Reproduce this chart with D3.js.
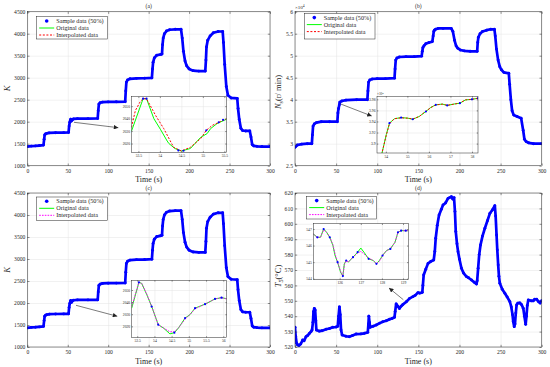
<!DOCTYPE html>
<html><head><meta charset="utf-8">
<script src="https://cdn.jsdelivr.net/npm/d3@7"></script>
<style>body{margin:0;background:#fff}svg{display:block}</style>
</head><body><svg id="c" width="550" height="367"></svg>
<script>
// ---------------- DATA ----------------
const timeTicks = [0, 50, 100, 150, 200, 250, 300];
const kTicks = [1000, 1500, 2000, 2500, 3000, 3500, 4000, 4500];
const nTicks = [25000, 30000, 35000, 40000, 45000, 50000, 55000, 60000];
const tTicks = [520, 530, 540, 550, 560, 570, 580, 590, 600, 610, 620];

const kTime = [0,5,10,15,20,20.8,21.5,22.5,24,27,35,45,51,51.7,52.5,53.3,53.65,54.5,55.5,57,62,75,87,87.7,88.5,90,93,100,110,121,121.7,122.5,124,127,135,145,154,154.8,155.5,157,160,165,166.5,167.2,168,169.5,172,176,183,190,191.5,193,195,197,200,205,212,220,220.8,221.5,223,226,230,236,241.5,242.5,244,246,248,252,259.5,260.5,262,264,266,270,275,276.5,278,280,284,290,300];
const kValue = [1435,1445,1450,1458,1468,1600,1700,1720,1735,1745,1750,1752,1755,1900,1990,2031,2056,2014,2040,2063,2070,2070,2073,2250,2400,2430,2445,2450,2452,2455,2700,2900,2950,2975,2985,2988,2995,3200,3350,3450,3510,3530,3540,3750,3900,4000,4060,4090,4100,4100,3900,3600,3380,3270,3200,3160,3150,3150,3400,3700,3850,3950,4020,4050,4050,3800,3300,2800,2600,2540,2530,2300,2050,1850,1800,1790,1790,1650,1480,1450,1440,1435,1435];

const nTime = [0,3,8,15,20.5,21.2,22,23.5,26,32,42,51.5,52.2,53,53.9,54.5,57,62,75,88,88.7,89.5,91,94,100,110,121,121.7,122.5,124,127,135,145,154,154.8,155.5,157,159,163,167,168,168.8,169.5,171,174,180,190,192,194,196,198,201,206,213,221.5,222.2,223,225,228,233,238,242.5,243.5,245,247,249,251,254,260,261,262.5,264,266,270,275,277.5,279,281,284,290,300];
const nValue = [29200,29700,29900,30000,30000,32000,34000,34500,34800,35000,35000,35000,37000,38000,38850,39450,39700,39900,40000,40000,42000,44000,44500,44700,44800,44800,44900,47000,49000,49500,49700,49800,49800,49900,51000,51800,52300,52700,53000,53200,54500,55500,55800,56000,56200,56200,56200,55500,53500,52200,51700,51300,51100,51000,51000,53000,54200,55000,55500,55800,56000,56000,54500,51500,49000,47500,46800,46200,46000,43500,40000,37500,36500,36200,35800,33000,31000,30500,30200,30000,30000];

const tsTime = [0,0.8,2,3,4.8,7,9.3,11,13.4,15.5,17.5,19.5,20.7,21.8,22.5,23.5,24.5,25.3,26,29.6,33,37.8,42,45.9,50,52,53,54,55,56,57.3,62,66,70,74.4,80,84.5,88.5,89.3,89.8,90.6,91.4,95,98.8,103,106.8,111,115,118,121,121.8,123,125,127,129,131,135.4,139.4,143.4,146,149.5,151.6,154.8,155.5,156.5,159,161.8,165,168.7,170,171.1,173,175.2,178,180,183,186.1,188,190.2,192,193.4,194.5,195.5,197,198.3,200,202.4,205,208.5,211,214.6,218,220.7,221.5,222.7,224,225.6,228,230.9,234,237,240,243,244,245.1,246,247.1,248,249.1,252,255.2,258,261.3,263,264.5,265.4,266.6,267.5,268.5,269.5,271,273.5,275.5,277.6,279,280.5,281.5,282.5,283.7,287,289.8,291.5,293.9,296,298,300];
const tsValue = [532.8,527,522.4,521.5,521,522,524.5,524,526.7,527.5,528.8,530,531,536,543,545,544,537,531,530.3,530.6,531.5,532,532.8,533,533.5,540,546,541,531,527.8,527,526.7,527.5,528.4,528.5,528.9,529.5,535,540,536,532.8,533.5,534.3,535.5,536.4,537,538,538.5,539.3,543,548,546.5,545,546.5,547.5,549.4,551.6,552.7,553.5,555.3,555,555.5,560,566.8,570.5,574.3,575.5,576.5,582,590.6,599,605.7,609.5,612.2,613.5,616.5,617,617.6,616,617,608,595,587,581.9,577,571.1,568,565.7,565,563.5,562,560.9,563,571.1,580,586.2,592,597.1,602,606.8,609,611.8,605,592.7,583,573.2,566,561.4,557.5,554.9,552.5,549.4,546,541,536.4,533.2,535,542,547.3,548.5,548.6,547.5,545.1,540,534.7,540,547,550.5,550,550,551,551,549.5,548.5,550];

// inset (a)
const aInOrigT = [53.34,53.61,53.69,53.86,54.02,54.17,54.21,54.35,54.50,54.71,54.95,55.10,55.18,55.33,55.55];
const aInOrig  = [2030,2056,2056,2040,2031,2022,2020,2016,2014,2016,2025,2028,2032,2036,2039.5];
const aInIntT  = [53.34,53.43,53.55,53.61,53.69,53.90,54.09,54.32,54.50,54.71,54.95,55.08,55.22,55.37,55.55];
const aInInt   = [2033,2046.5,2054,2056,2056,2042.6,2032,2017,2014,2017,2024,2030.6,2034.6,2037,2040];
const aInSampT = [53.61,53.69,54.43,54.55,55.08,55.37,55.47];
const aInSamp  = [2056,2056,2014.5,2014.2,2030.6,2037,2039];
// inset (b)
const bInOrigT = [53.8,54.02,54.17,54.4,54.71,55.02,55.25,55.55,55.86,56.09,56.32,56.62,56.85,57.16,57.44,57.70,58.0,58.28];
const bInOrig  = [38790,39160,39370,39450,39470,39460,39440,39490,39580,39655,39700,39715,39690,39715,39730,39790,39800,39820];
const bInInt   = [38800,39150,39360,39450,39465,39460,39445,39490,39585,39650,39700,39712,39692,39712,39735,39790,39800,39822];
const bInSampT = [54.17,54.71,55.25,55.86,56.32,56.85,57.44,58.0,58.28];
const bInSamp  = [39370,39470,39440,39580,39700,39690,39730,39800,39820];
// inset (c)
const cInT     = [53.34,53.55,53.63,53.78,53.92,54.11,54.26,54.45,54.58,54.70,54.89,55.03,55.18,55.47,55.76,55.95,56.1];
const cInOrig  = [2035,2056.3,2055.5,2046,2036.4,2021.4,2018.7,2013.8,2014.8,2018.7,2026.8,2029.6,2035,2038.3,2042.6,2043.7,2042.8];
const cInInt   = [2036.4,2056.3,2055.5,2046.5,2036.4,2021.4,2018.7,2015.5,2015.6,2018.7,2026,2029.6,2034.5,2038.3,2042.6,2043.7,2042.6];
const cInSampT = [53.55,53.92,54.11,54.58,54.89,55.18,55.47,55.76,55.95];
const cInSamp  = [2056.3,2036.4,2021.4,2014.8,2026.8,2035,2038.3,2042.6,2043.7];
// inset (d)
const dInT     = [124.75,124.94,125.09,125.24,125.38,125.53,125.68,125.78,125.9,126.04,126.15,126.22,126.31,126.41,126.63,126.85,127.0,127.15,127.37,127.59,127.74,127.88,128.03,128.22,128.4,128.62,128.76,128.91,129.13,129.25];
const dInOrig  = [546.7,546.5,546.5,547.0,546.8,546.5,546.0,545.4,545.0,544.4,544.16,544.9,545.1,545.0,545.3,545.6,545.85,545.6,545.2,545.1,544.9,545.1,545.4,545.7,545.8,546.2,546.8,546.9,546.9,546.9];
const dInInt   = [546.7,546.5,546.5,546.95,546.8,546.5,546.05,545.5,545.0,544.45,544.16,544.85,545.1,545.0,545.3,545.55,545.65,545.5,545.25,545.1,544.9,545.05,545.4,545.7,545.8,546.2,546.8,546.9,546.9,546.9];
const dInSampT = [124.94,125.24,125.53,125.9,126.15,126.31,126.63,126.85,127.37,127.74,128.03,128.4,128.76,128.91,129.13];
const dInSamp  = [546.5,547.0,546.5,545.0,544.16,545.1,545.3,545.6,545.2,544.9,545.4,545.8,546.8,546.9,546.9];

const legendLabels = ["Sample data (50%)", "Original data", "Interpolated data"];

// ---------------- DRAW ----------------
const FONT = '"Liberation Serif","Times New Roman",Times,serif';
const svg = d3.select('#c').style('font-family', FONT);
const defs = svg.append('defs');
defs.append('marker').attr('id','ah').attr('markerUnits','userSpaceOnUse')
  .attr('viewBox','0 0 10 10').attr('refX',10).attr('refY',5)
  .attr('markerWidth',5).attr('markerHeight',4.5).attr('orient','auto')
  .append('path').attr('d','M0,0L10,5L0,10Z').attr('fill','#222');

const BLUE = '#0000ff', GREEN = '#00ff00';
const zip = (a,b) => a.map((d,i)=>[d,b[i]]);
let clipId = 0;

function frame(g, x, y, xt, yt) {
  const [L,R] = x.range(), [B,T] = y.range();
  const w = R-L, h = B-T;
  const gridCol = '#e3e3e3';
  g.append('rect').attr('x',L).attr('y',T).attr('width',w).attr('height',h).attr('fill','#fff');
  g.append('g').attr('transform',`translate(0,${B})`)
    .call(d3.axisBottom(x).tickValues(xt).tickSize(-h).tickFormat(''))
    .call(s=>{s.select('.domain').remove(); s.selectAll('line').attr('stroke',gridCol).attr('stroke-width',0.5);});
  g.append('g').attr('transform',`translate(${L},0)`)
    .call(d3.axisLeft(y).tickValues(yt).tickSize(-w).tickFormat(''))
    .call(s=>{s.select('.domain').remove(); s.selectAll('line').attr('stroke',gridCol).attr('stroke-width',0.5);});
}
function axesOver(g, x, y, xt, yt, opt) {
  const [L,R] = x.range(), [B,T] = y.range();
  const tl = opt.tickLen, col = '#262626';
  const style = s => { s.select('.domain').remove(); s.selectAll('line').attr('stroke',col).attr('stroke-width',0.5);
    s.selectAll('text').attr('fill',col).style('font-size',opt.fs+'px').style('font-family',FONT); };
  g.append('g').attr('transform',`translate(0,${B})`)
    .call(d3.axisBottom(x).tickValues(xt).tickSizeInner(-tl).tickSizeOuter(0).tickPadding(opt.xpad).tickFormat(opt.xfmt)).call(style);
  g.append('g').attr('transform',`translate(0,${T})`)
    .call(d3.axisTop(x).tickValues(xt).tickSizeInner(-tl).tickSizeOuter(0).tickFormat('')).call(style);
  g.append('g').attr('transform',`translate(${L},0)`)
    .call(d3.axisLeft(y).tickValues(yt).tickSizeInner(-tl).tickSizeOuter(0).tickPadding(opt.ypad).tickFormat(opt.yfmt)).call(style);
  g.append('g').attr('transform',`translate(${R},0)`)
    .call(d3.axisRight(y).tickValues(yt).tickSizeInner(-tl).tickSizeOuter(0).tickFormat('')).call(style);
  g.append('rect').attr('x',L).attr('y',T).attr('width',R-L).attr('height',B-T)
    .attr('fill','none').attr('stroke',col).attr('stroke-width',0.5);
}
function clip(g, x, y) {
  const id = 'cl'+(clipId++);
  const [L,R] = x.range(), [B,T] = y.range();
  defs.append('clipPath').attr('id',id).append('rect').attr('x',L).attr('y',T).attr('width',R-L).attr('height',B-T);
  return g.append('g').attr('clip-path',`url(#${id})`);
}

function panel(o) {
  const g = svg.append('g');
  const x = d3.scaleLinear(o.xDomain, [o.L, o.R]);
  const y = d3.scaleLinear(o.yDomain, [o.B, o.T]);
  frame(g, x, y, timeTicks, o.yTicks);
  const line = d3.line().x(d=>x(d[0])).y(d=>y(d[1]));
  const pts = zip(o.t, o.v);
  const cg = clip(g, x, y);
  cg.append('path').attr('d', line(pts)).attr('fill','none').attr('stroke',GREEN).attr('stroke-width',1);
  cg.append('path').attr('d', line(pts)).attr('fill','none').attr('stroke',o.icol).attr('stroke-width',1).attr('stroke-dasharray',o.idash);
  cg.append('path').attr('d', line(pts)).attr('fill','none').attr('stroke',BLUE).attr('stroke-width',2.7).attr('stroke-linejoin','round').attr('stroke-linecap','round');
  cg.selectAll('circle').data(pts).join('circle').attr('cx',d=>x(d[0])).attr('cy',d=>y(d[1])).attr('r',1.45).attr('fill',BLUE);
  axesOver(g, x, y, timeTicks, o.yTicks, {tickLen:2.2, fs:5.6, xpad:3.5, ypad:2, xfmt:d3.format('d'), yfmt:o.yfmt});
  g.append('text').attr('x',(o.L+o.R)/2).attr('y',o.T-3.5).attr('text-anchor','middle').attr('fill','#262626').style('font-size','5.6px').text(o.title);
  g.append('text').attr('x',(o.L+o.R)/2).attr('y',o.B+16.5).attr('text-anchor','middle').attr('fill','#262626').style('font-size','8px').text('Time (s)');
  const yl = g.append('text').attr('transform',`translate(${o.ylx},${o.yly}) rotate(-90)`).attr('text-anchor','middle').attr('fill','#262626').style('font-size','8.5px');
  o.ylabel(yl);
  if (o.exp) {
    const e = g.append('text').attr('x',o.L).attr('y',o.T-3.2).attr('fill','#262626').style('font-size','5px').text('×10');
    e.append('tspan').attr('dy',-2).style('font-size','3.6px').text('4');
  }
  const lg = o.legend;
  g.append('rect').attr('x',lg.x).attr('y',lg.y).attr('width',lg.w).attr('height',lg.h).attr('fill','#fff').attr('stroke','#262626').attr('stroke-width',0.5);
  const rowY = i => lg.y + 4.3 + i*7;
  g.append('circle').attr('cx',lg.x+10).attr('cy',rowY(0)).attr('r',1.8).attr('fill',BLUE);
  g.append('line').attr('x1',lg.x+2.5).attr('x2',lg.x+17.5).attr('y1',rowY(1)).attr('y2',rowY(1)).attr('stroke',GREEN).attr('stroke-width',1);
  g.append('line').attr('x1',lg.x+2.5).attr('x2',lg.x+17.5).attr('y1',rowY(2)).attr('y2',rowY(2)).attr('stroke',o.icol).attr('stroke-width',1).attr('stroke-dasharray',o.idash);
  g.selectAll('text.lg').data(legendLabels).join('text').attr('class','lg')
    .attr('x',lg.x+19.5).attr('y',(d,i)=>rowY(i)+2).attr('fill','#262626').style('font-size','6.2px').text(d=>d);
  const ins = o.inset;
  const ig = svg.append('g');
  const ix = d3.scaleLinear(ins.xDomain, [ins.L, ins.R]);
  const iy = d3.scaleLinear(ins.yDomain, [ins.B, ins.T]);
  frame(ig, ix, iy, ins.xTicks, ins.yTicks);
  const il = d3.line().x(d=>ix(d[0])).y(d=>iy(d[1]));
  const icg = clip(ig, ix, iy);
  icg.append('path').attr('d', il(zip(ins.origT, ins.orig))).attr('fill','none').attr('stroke',GREEN).attr('stroke-width',1);
  icg.append('path').attr('d', il(zip(ins.intT, ins.int))).attr('fill','none').attr('stroke',o.icol).attr('stroke-width',1).attr('stroke-dasharray',o.idash);
  icg.selectAll('circle').data(zip(ins.sampT, ins.samp)).join('circle').attr('cx',d=>ix(d[0])).attr('cy',d=>iy(d[1])).attr('r',1.1).attr('fill',BLUE);
  axesOver(ig, ix, iy, ins.xTicks, ins.yTicks, {tickLen:1.3, fs:3.7, xpad:2, ypad:1.5, xfmt:ins.xfmt, yfmt:ins.yfmt});
  if (ins.exp) {
    const e = ig.append('text').attr('x',ins.L).attr('y',ins.T-1.2).attr('fill','#262626').style('font-size','3.4px').text('×10');
    e.append('tspan').attr('dy',-1.3).style('font-size','2.6px').text('4');
  }
  const a = o.arrow;
  svg.append('line').attr('x1',a[0]).attr('y1',a[1]).attr('x2',a[2]).attr('y2',a[3]).attr('stroke','#222').attr('stroke-width',0.6).attr('marker-end','url(#ah)');
}

const italicSub = (main, sub, rest) => sel => {
  sel.append('tspan').style('font-style','italic').text(main);
  if (sub) sel.append('tspan').attr('dy',1.8).style('font-size','6px').text(sub);
  if (rest) sel.append('tspan').attr('dy', sub ? -1.8 : 0).text(rest);
};

panel({ L:27.3, R:270, T:11.7, B:165.7, xDomain:[0,300], yDomain:[1000,4500], yTicks:kTicks, yfmt:d3.format('d'),
  t:kTime, v:kValue, icol:'#ff0000', idash:'2,1.6', title:'(a)', ylx:10, yly:88.5, ylabel:italicSub('K'),
  legend:{x:36.7,y:16.7,w:70.6,h:22.3},
  inset:{L:131.5,R:226.5,T:96.7,B:152.5,xDomain:[53.34,55.55],yDomain:[2012.8,2057.6],xTicks:[53.5,54,54.5,55,55.5],yTicks:[2020,2030,2040,2050],
    xfmt:d3.format('~g'), yfmt:d3.format('d'), origT:aInOrigT, orig:aInOrig, intT:aInIntT, int:aInInt, sampT:aInSampT, samp:aInSamp},
  arrow:[74,122.3,118.3,127.7] });

panel({ L:295, R:541.7, T:11.7, B:165.7, xDomain:[0,300], yDomain:[25000,60000], yTicks:nTicks, yfmt:d=>d3.format('~g')(d/1e4),
  t:nTime, v:nValue, icol:'#ff0000', idash:'2,1.6', title:'(b)', ylx:281, yly:92, ylabel:italicSub('N','s','(r/ min)'), exp:true,
  legend:{x:304.3,y:13.3,w:70.7,h:25.7},
  inset:{L:377,R:478,T:96.3,B:153,xDomain:[53.59,58.28],yDomain:[38830,39855],xTicks:[54,55,56,57,58],yTicks:[39000,39200,39400,39600,39800],
    xfmt:d3.format('d'), yfmt:d=>d3.format('~g')(d/1e4), exp:true, origT:bInOrigT, orig:bInOrig, intT:bInOrigT, int:bInInt, sampT:bInSampT, samp:bInSamp},
  arrow:[340.7,104,371.7,116] });

panel({ L:27.3, R:270, T:193, B:347, xDomain:[0,300], yDomain:[1000,4500], yTicks:kTicks, yfmt:d3.format('d'),
  t:kTime, v:kValue, icol:'#ff00ff', idash:'1.6,1.2', title:'(c)', ylx:10, yly:270, ylabel:italicSub('K'),
  legend:{x:36.7,y:197,w:70.6,h:23.3},
  inset:{L:131.7,R:226.7,T:280.3,B:337.5,xDomain:[53.34,56.1],yDomain:[2010.8,2058],xTicks:[53.5,54,54.5,55,55.5,56],yTicks:[2020,2030,2040,2050],
    xfmt:d3.format('~g'), yfmt:d3.format('d'), origT:cInT, orig:cInOrig, intT:cInT, int:cInInt, sampT:cInSampT, samp:cInSamp},
  arrow:[76,305.3,117.3,316.3] });

panel({ L:295, R:541.7, T:193, B:347, xDomain:[0,300], yDomain:[520,620], yTicks:tTicks, yfmt:d3.format('d'),
  t:tsTime, v:tsValue, icol:'#ff00ff', idash:'1.6,1.2', title:'(d)', ylx:281, yly:276, ylabel:italicSub('T','5','(°C)'),
  legend:{x:306.7,y:196.3,w:70,h:22.7},
  inset:{L:313.3,R:408.3,T:223.7,B:279.7,xDomain:[124.75,129.25],yDomain:[543.94,547.32],xTicks:[126,127,128,129],yTicks:[544,545,546,547],
    xfmt:d3.format('d'), yfmt:d3.format('d'), origT:dInT, orig:dInOrig, intT:dInT, int:dInInt, sampT:dInSampT, samp:dInSamp},
  arrow:[403.3,299.7,389,288] });
</script></body></html>
